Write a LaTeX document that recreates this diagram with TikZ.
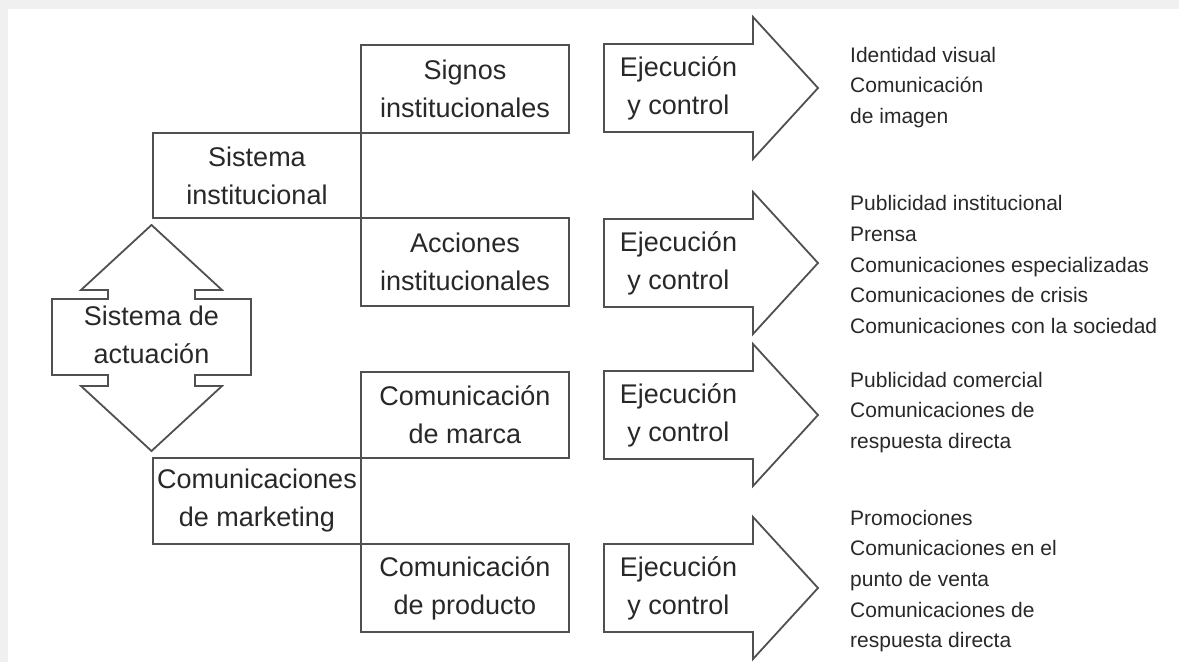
\documentclass[tikz,border=0pt]{standalone}
\usepackage{fontspec}
\setmainfont{Liberation Sans}
\definecolor{lc}{RGB}{80,80,80}
\definecolor{tc}{RGB}{40,40,40}
\definecolor{frame}{RGB}{240,240,240}
\begin{document}
\begin{tikzpicture}[x=1pt,y=-1pt,
  ln/.style={draw=lc, line width=1.8pt, line join=miter},
  bigtext/.style={font=\fontsize{27}{38}\selectfont, text=tc, align=center, inner sep=0pt},
  bx/.style={ln, bigtext, fill=white, minimum width=208pt, minimum height=88pt},
  rt/.style={anchor=west, align=left, inner sep=0pt, text=tc, font=\fontsize{21}{30.7}\selectfont},
  ejarrow/.pic={
    \draw[ln] (-74.5,-44) -- (74.5,-44) -- (74.5,-71) -- (139.5,0) -- (74.5,71)
      -- (74.5,44) -- (-74.5,44) -- cycle;
    \node[bigtext] (-t) at (0,0) {Ejecución\\y control};
  }]
\useasboundingbox (0,0) rectangle (1179,662);
\fill[frame] (0,0) rectangle (1179,9);
\fill[frame] (0,0) rectangle (8,662);

% column 2 boxes
\node[bx] (signos) at (465,89) {Signos\\institucionales};
\node[bx] (acciones) at (465,262) {Acciones\\institucionales};
\node[bx, minimum height=86pt] (marca) at (465,415) {Comunicación\\de marca};
\node[bx] (producto) at (465,588) {Comunicación\\de producto};

% column 1 boxes
\node[bx, minimum height=85pt] (sisinst) at (257,175.5) {Sistema\\institucional};
\node[bx, minimum height=86pt] (mkt) at (257,501) {Comunicaciones\\de marketing};

% double arrow with box
\draw[ln] (151.5,225) -- (222,290) -- (195,290) -- (195,299) -- (251,299)
  -- (251,375) -- (195,375) -- (195,386) -- (222,386) -- (151.5,451)
  -- (81,386) -- (108,386) -- (108,375) -- (52,375) -- (52,299)
  -- (108,299) -- (108,290) -- (81,290) -- cycle;
\node[bigtext] (actuacion) at (151.5,335) {Sistema de\\actuación};

% execution arrows
\pic (ea) at (678.5,88) {ejarrow};
\pic (eb) at (678.5,263) {ejarrow};
\pic (ec) at (678.5,415) {ejarrow};
\pic (ed) at (678.5,588) {ejarrow};

% right-hand lists
\node[rt] (la) at (850,87.5) {Identidad visual\\Comunicación\\de imagen};
\node[rt] (lb) at (850,264.5) {Publicidad institucional\\Prensa\\Comunicaciones especializadas\\Comunicaciones de crisis\\Comunicaciones con la sociedad};
\node[rt] (lc) at (850,412.5) {Publicidad comercial\\Comunicaciones de\\respuesta directa};
\node[rt] (ld) at (850,581) {Promociones\\Comunicaciones en el\\punto de venta\\Comunicaciones de\\respuesta directa};
\end{tikzpicture}
\end{document}
